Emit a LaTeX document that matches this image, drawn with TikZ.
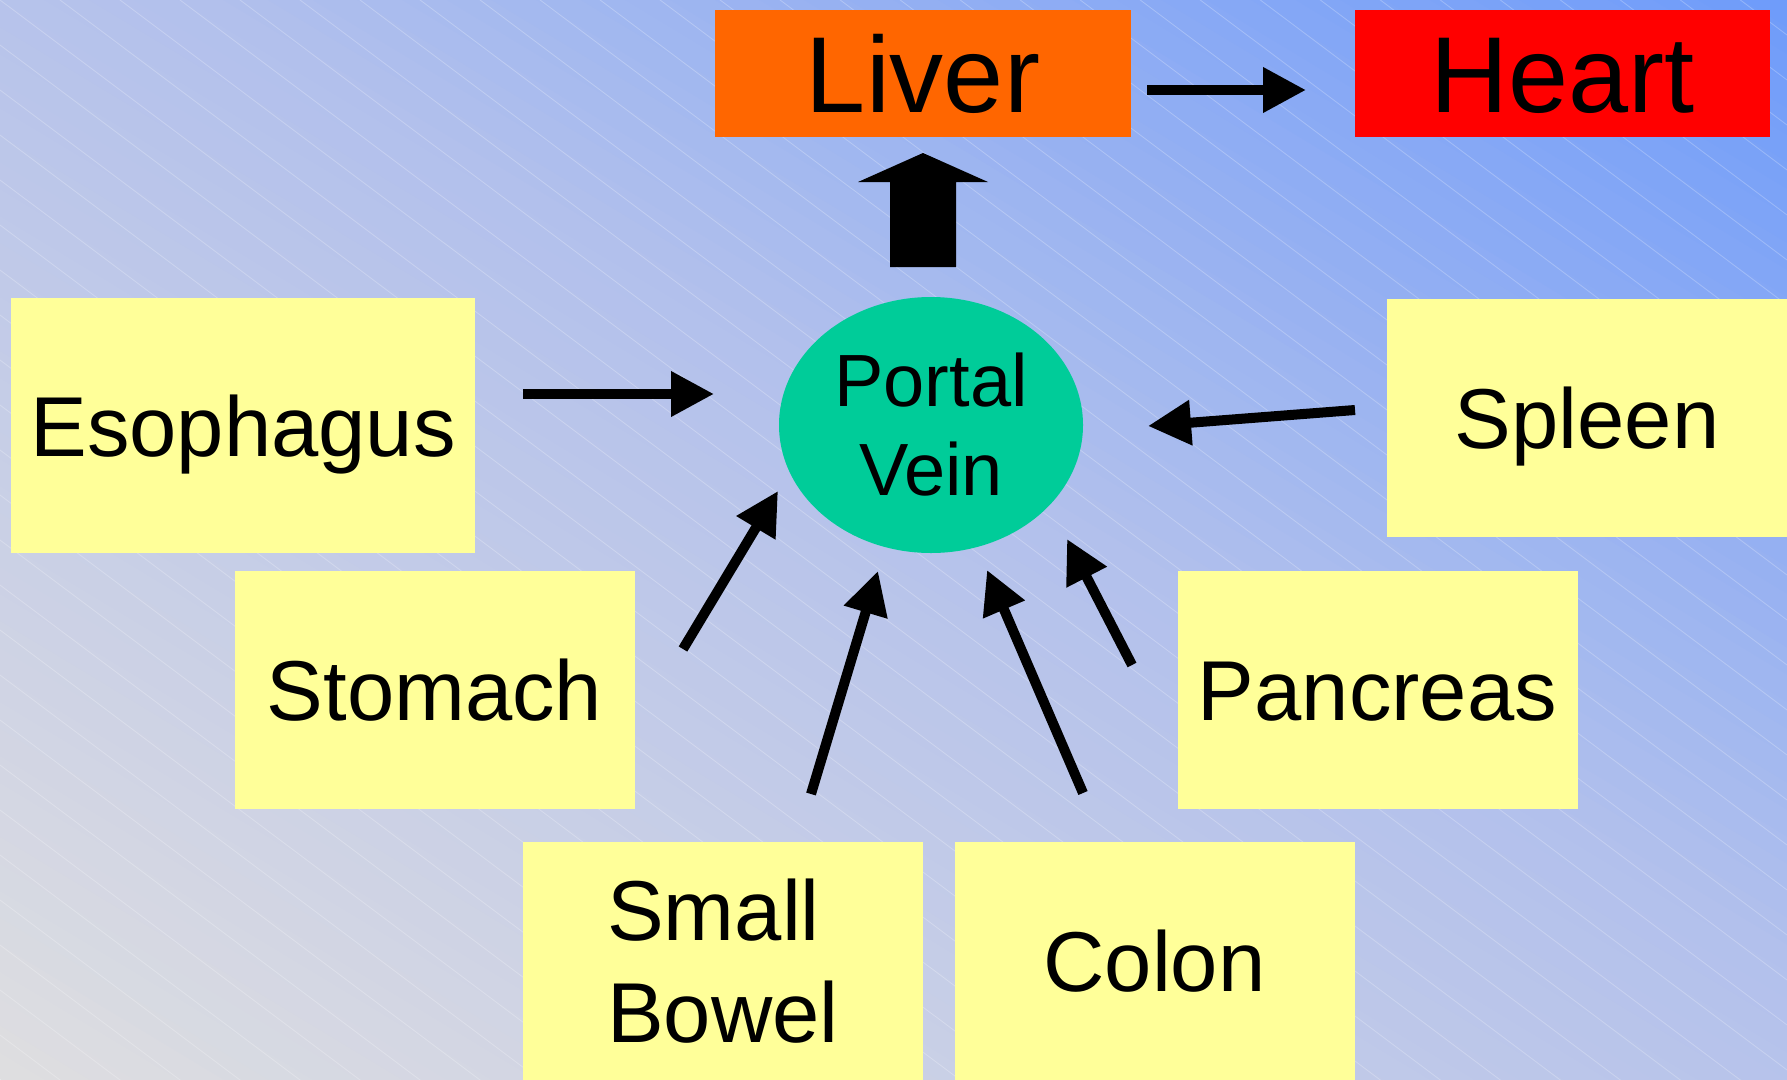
\documentclass[tikz,border=0pt]{standalone}
\usepackage{fontspec}
\setmainfont{Liberation Sans}
\usetikzlibrary{arrows.meta,positioning,shapes.geometric}
\definecolor{organfill}{HTML}{FFFF99}
\definecolor{liverfill}{HTML}{FF6600}
\definecolor{heartfill}{HTML}{FF0000}
\definecolor{veinfill}{HTML}{00CC99}
\definecolor{bgblue}{HTML}{6E9BFA}
\definecolor{bgmid}{HTML}{B2C0EC}
\definecolor{bggrey}{HTML}{DEDEE0}
\tikzset{
  organ/.style={fill=organfill, inner sep=0pt, minimum width=400pt, minimum height=238pt, font=\fontsize{85}{102}\selectfont},
  capmid/.style={text height=61pt, text depth=0pt},
  endbox/.style={inner sep=0pt, minimum height=127pt, text height=77.5pt, text depth=0pt, font=\fontsize{108}{120}\selectfont},
  vein/.style={ellipse, fill=veinfill, inner sep=0pt, minimum width=304pt, minimum height=256pt, align=center, font=\fontsize{74}{89}\selectfont},
  flow/.style={line width=10pt, -{Triangle[length=43pt, width=43pt]}},
  bgline/.style={white, opacity=0.25, line width=0.8pt}
}

\begin{document}
\begin{tikzpicture}[x=1pt, y=-1pt]
\useasboundingbox (0,0) rectangle (1787,1079);
% backdrop: grey bottom left to blue top right, in bands, then fine white hatching
\begin{scope}
  \clip (0,0) rectangle (1787,1079);
  \foreach \i in {0,...,79} {
    \pgfmathsetmacro{\ta}{-924+\i*23.1}
    \pgfmathsetmacro{\tb}{\ta+24.1}
    \pgfmathsetmacro{\tc}{\ta+11.55}
    \ifdim\tc pt<100pt
      \pgfmathsetmacro{\q}{(\tc+924)/10.24}
      \colorlet{band}{bgmid!\q!bggrey}
    \else
      \pgfmathsetmacro{\q}{(\tc-100)/8.24}
      \colorlet{band}{bgblue!\q!bgmid}
    \fi
    \fill[band] ({893.5+\ta*0.517-941.6},{539.5-\ta*0.856-568.7})
      -- ({893.5+\ta*0.517+941.6},{539.5-\ta*0.856+568.7})
      -- ({893.5+\tb*0.517+941.6},{539.5-\tb*0.856+568.7})
      -- ({893.5+\tb*0.517-941.6},{539.5-\tb*0.856-568.7}) -- cycle;
  }
  \foreach \k in {-31,...,24}
    \draw[bgline] (0,45*\k) -- ++(1787,1340);
\end{scope}

\node[endbox, fill=liverfill, minimum width=416pt] (liver) at (923,73.5) {Liver};
\node[endbox, fill=heartfill, minimum width=415pt] (heart) at (1562.5,73.5) {Heart};
\node[vein] (portal) at (931,425) {Portal\\Vein};
\node[organ, capmid, minimum width=464pt, minimum height=255pt] (esophagus) at (243,425.5) {Esophagus};
\node[organ, capmid] (spleen) at (1587,418) {Spleen};
\node[organ, capmid] (stomach) at (434.5,689.5) {Stomach};
\node[organ, capmid] (pancreas) at (1377.5,689.5) {Pancreas};
\node[organ, align=left] (smallbowel) at (723,961) {Small\\Bowel};
\node[organ, capmid] (colon) at (1154.5,961) {Colon};

% portal vein up to the liver
\fill (890,267) -- (890,182) -- (858,182) -- (923,153) -- (988,182) -- (956,182) -- (956,267) -- cycle;

% free ends of the small arrows
\coordinate (liv-out) at (1147,90);  \coordinate (liv-in) at (1306,90);
\coordinate (eso-out) at (523,394);  \coordinate (eso-in) at (714,394);
\coordinate (spl-out) at (1355,410); \coordinate (spl-in) at (1148,426);
\coordinate (sto-out) at (683,649);  \coordinate (sto-in) at (778,491);
\coordinate (sbw-out) at (811,794);  \coordinate (sbw-in) at (878,571);
\coordinate (col-out) at (1083,793); \coordinate (col-in) at (987,570);
\coordinate (pan-out) at (1132,665); \coordinate (pan-in) at (1067,539);
\foreach \n in {liv,eso,spl,sto,sbw,col,pan}
  \draw[flow] (\n-out) -- (\n-in);
\end{tikzpicture}
\end{document}
